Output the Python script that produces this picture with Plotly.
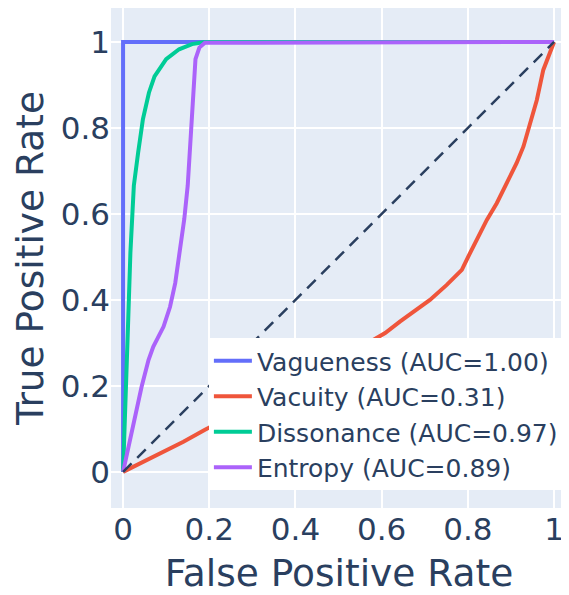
import plotly.graph_objects as go

# ---- data ----
vague_fpr = [0.0, 0.0, 1.0]
vague_tpr = [0.0, 1.0, 1.0]

vacuity_fpr = [0.0, 0.043, 0.086, 0.14, 0.19, 0.3, 0.4, 0.5, 0.608, 0.643, 0.674, 0.712, 0.751, 0.786, 0.805, 0.828, 0.844, 0.867, 0.89, 0.913, 0.929, 0.944, 0.96, 0.975, 0.987, 1.0]
vacuity_tpr = [0.0, 0.021, 0.043, 0.07, 0.098, 0.155, 0.205, 0.26, 0.323, 0.35, 0.373, 0.4, 0.435, 0.47, 0.509, 0.555, 0.586, 0.625, 0.671, 0.718, 0.757, 0.811, 0.865, 0.935, 0.966, 1.0]

dissonance_fpr = [0.0, 0.004, 0.008, 0.012, 0.017, 0.021, 0.025, 0.035, 0.046, 0.06, 0.073, 0.1, 0.13, 0.16, 0.19, 1.0]
dissonance_tpr = [0.0, 0.1, 0.2, 0.356, 0.51, 0.59, 0.666, 0.743, 0.82, 0.882, 0.92, 0.96, 0.983, 0.995, 1.0, 1.0]

entropy_fpr = [0.0, 0.016, 0.028, 0.043, 0.059, 0.07, 0.094, 0.109, 0.121, 0.128, 0.136, 0.142, 0.15, 0.155, 0.16, 0.164, 0.168, 0.177, 0.19, 1.0]
entropy_tpr = [0.0, 0.074, 0.136, 0.198, 0.26, 0.291, 0.338, 0.384, 0.439, 0.485, 0.54, 0.588, 0.666, 0.743, 0.82, 0.898, 0.96, 0.987, 0.998, 1.0]

diag = [0.0, 1.0]

names = ["Vagueness (AUC=1.00)", "Vacuity (AUC=0.31)", "Dissonance (AUC=0.97)", "Entropy (AUC=0.89)"]
colors = ["#636efa", "#EF553B", "#00cc96", "#ab63fa"]

tick_vals = [0, 0.2, 0.4, 0.6, 0.8, 1]
tick_text = ["0", "0.2", "0.4", "0.6", "0.8", "1"]

FONT = "DejaVu Sans"
TXT = "#2a3f5f"

fig = go.Figure()
series = [(vague_fpr, vague_tpr), (vacuity_fpr, vacuity_tpr), (dissonance_fpr, dissonance_tpr), (entropy_fpr, entropy_tpr)]
for (xs, ys), n, c in zip(series, names, colors):
    fig.add_trace(go.Scatter(x=xs, y=ys, mode="lines", name=n, line=dict(color=c, width=4)))

fig.add_trace(go.Scatter(x=diag, y=diag, mode="lines", showlegend=False,
                         line=dict(color=TXT, width=2.5, dash="12px,8px")))

# the page body adds an 8px offset, so the figure is sized to the remaining area
fig.update_layout(
    width=561, height=587,
    margin=dict(l=103, r=2, t=0, b=87),
    template="plotly",
    font=dict(family=FONT, color=TXT),
    plot_bgcolor="#e5ecf6",
    paper_bgcolor="white",
    legend=dict(x=0.991, y=0.036, xanchor="right", yanchor="bottom", itemwidth=38,
                bgcolor="white", font=dict(size=25, family=FONT, color=TXT)),
    xaxis=dict(title=dict(text="False Positive Rate", font=dict(size=37.5), standoff=24),
               range=[-0.028, 1.03], tickvals=tick_vals, ticktext=tick_text, automargin=False,
               tickfont=dict(size=31), gridcolor="white", zerolinecolor="white", gridwidth=1.5),
    yaxis=dict(title=dict(text="True Positive Rate", font=dict(size=37.5), standoff=20),
               range=[-0.084, 1.079], tickvals=tick_vals, ticktext=tick_text, automargin=False,
               tickfont=dict(size=31), gridcolor="white", zerolinecolor="white", gridwidth=1.5),
)

fig.write_html("out.html")
